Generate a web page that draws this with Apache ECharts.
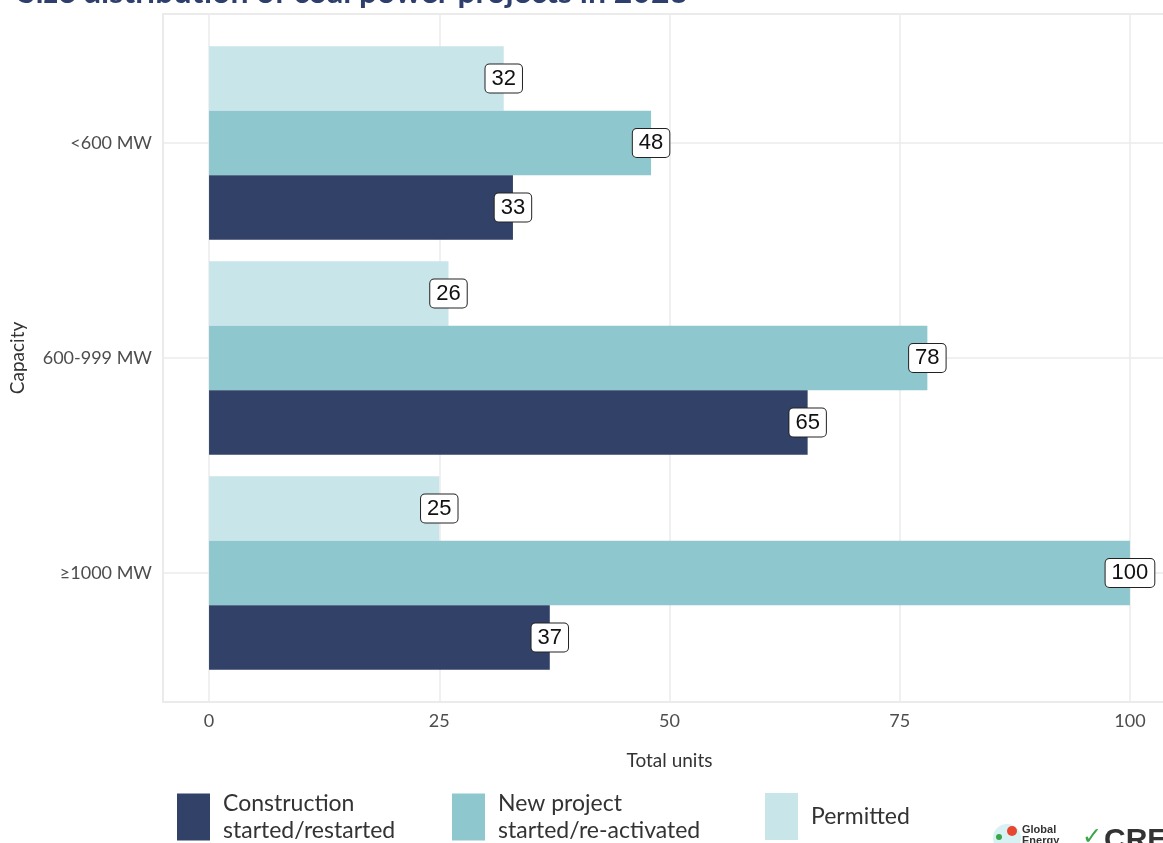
<!DOCTYPE html>
<html>
<head>
<meta charset="utf-8">
<script src="https://cdn.jsdelivr.net/npm/echarts@6/dist/echarts.min.js"></script>
<style>
html,body{margin:0;padding:0;background:#fff;}
#chart{width:1163px;height:843px;}
</style>
</head>
<body>
<div id="chart"></div>
<script>
var categories = ['<600 MW', '600-999 MW', '≥1000 MW'];
var construction = [33, 65, 37];
var newProject = [48, 78, 100];
var permitted = [32, 26, 25];
var xTicks = [0, 25, 50, 75, 100];
var catCenters = [1, 2, 3];
var seriesNames = ['Construction\nstarted/restarted', 'New project\nstarted/re-activated', 'Permitted'];
var colors = ['#324168', '#8ec7ce', '#c8e5ea'];

var chart = echarts.init(document.getElementById('chart'));
var FONT = 'Lato';
var labelStyle = {
  show: true,
  position: ['100%', '50%'],
  align: 'center',
  verticalAlign: 'middle',
  fontFamily: 'Liberation Sans',
  fontSize: 22,
  color: '#111',
  backgroundColor: '#fff',
  borderColor: '#222',
  borderWidth: 1,
  borderRadius: 4,
  padding: [4, 6, 2, 6]
};
function mkSeries(name, data, color) {
  return {
    type: 'bar', name: name, data: data,
    xAxisIndex: 1, yAxisIndex: 1,
    barCategoryGap: '10%', barGap: '0%',
    itemStyle: {color: color},
    label: labelStyle,
    silent: true
  };
}
function mkLegend(name, left, top) {
  return {
    left: left, top: top, orient: 'horizontal', padding: 0,
    data: [{name: name, icon: 'rect'}],
    itemWidth: 33, itemHeight: 47,
    selectedMode: false,
    textStyle: {fontFamily: FONT, fontSize: 23, lineHeight: 27, color: '#333', padding: [0, 0, 0, 8]}
  };
}
var option = {
  animation: false,
  backgroundColor: '#fff',
  title: {
    text: 'Size distribution of coal power projects in 2023',
    left: 13, top: -28,
    textStyle: {fontFamily: FONT, fontWeight: 'bold', fontSize: 32, color: '#2e3f6e'}
  },
  legend: [
    mkLegend(seriesNames[0], 177, 790),
    mkLegend(seriesNames[1], 452, 790),
    mkLegend(seriesNames[2], 765, 793)
  ],
  grid: [
    {left: 163, width: 1013, top: 14, bottom: 141, show: true, borderColor: '#ebebeb', borderWidth: 2, containLabel: false, outerBoundsMode: 'none'},
    {left: 163, width: 1013, top: 35.5, bottom: 162.5, containLabel: false, outerBoundsMode: 'none'}
  ],
  xAxis: [
    {
      type: 'value', gridIndex: 0, min: -5, max: 105,
      name: 'Total units', nameLocation: 'middle', nameGap: 49,
      nameTextStyle: {fontFamily: FONT, fontSize: 19, color: '#333'},
      axisLine: {show: false},
      axisTick: {show: false, customValues: xTicks},
      axisLabel: {customValues: xTicks, fontFamily: FONT, fontSize: 18, color: '#4d4d4d', margin: 10},
      splitLine: {show: true, lineStyle: {color: '#ebebeb', width: 1.5}}
    },
    {type: 'value', gridIndex: 1, min: -5, max: 105, show: false}
  ],
  yAxis: [
    {
      type: 'value', gridIndex: 0, min: 0.4, max: 3.6, inverse: true,
      name: 'Capacity', nameLocation: 'middle', nameGap: 136, nameRotate: 90,
      nameTextStyle: {fontFamily: FONT, fontSize: 19, color: '#333'},
      axisLine: {show: false},
      axisTick: {show: false, customValues: catCenters},
      axisLabel: {show: false, customValues: catCenters},
      splitLine: {show: true, lineStyle: {color: '#ebebeb', width: 1.5}}
    },
    {
      type: 'category', gridIndex: 1, data: categories, inverse: true,
      axisLine: {show: false}, axisTick: {show: false}, splitLine: {show: false},
      axisLabel: {fontFamily: FONT, fontSize: 18, color: '#4d4d4d', margin: 11}
    }
  ],
  series: [
    mkSeries(seriesNames[2], permitted, colors[2]),
    mkSeries(seriesNames[1], newProject, colors[1]),
    mkSeries(seriesNames[0], construction, colors[0])
  ],
  graphic: [
    {type: 'circle', shape: {cx: 1007, cy: 838, r: 14}, style: {fill: '#d8f1f3'}},
    {type: 'circle', shape: {cx: 1012, cy: 831, r: 5}, style: {fill: '#e8462f'}},
    {type: 'circle', shape: {cx: 999, cy: 837, r: 3}, style: {fill: '#3aa64a'}},
    {type: 'text', left: 1022, top: 824, style: {text: 'Global\nEnergy', font: 'bold 11px "Liberation Sans"', fill: '#333', lineHeight: 11}},
    {type: 'text', left: 1082, top: 826, style: {text: '✓', font: 'bold 24px "DejaVu Sans"', fill: '#3aa64a'}},
    {type: 'text', left: 1104, top: 826, style: {text: 'CREA', font: 'bold 30px "Liberation Sans"', fill: '#333'}}
  ]
};
chart.setOption(option);
</script>
</body>
</html>
